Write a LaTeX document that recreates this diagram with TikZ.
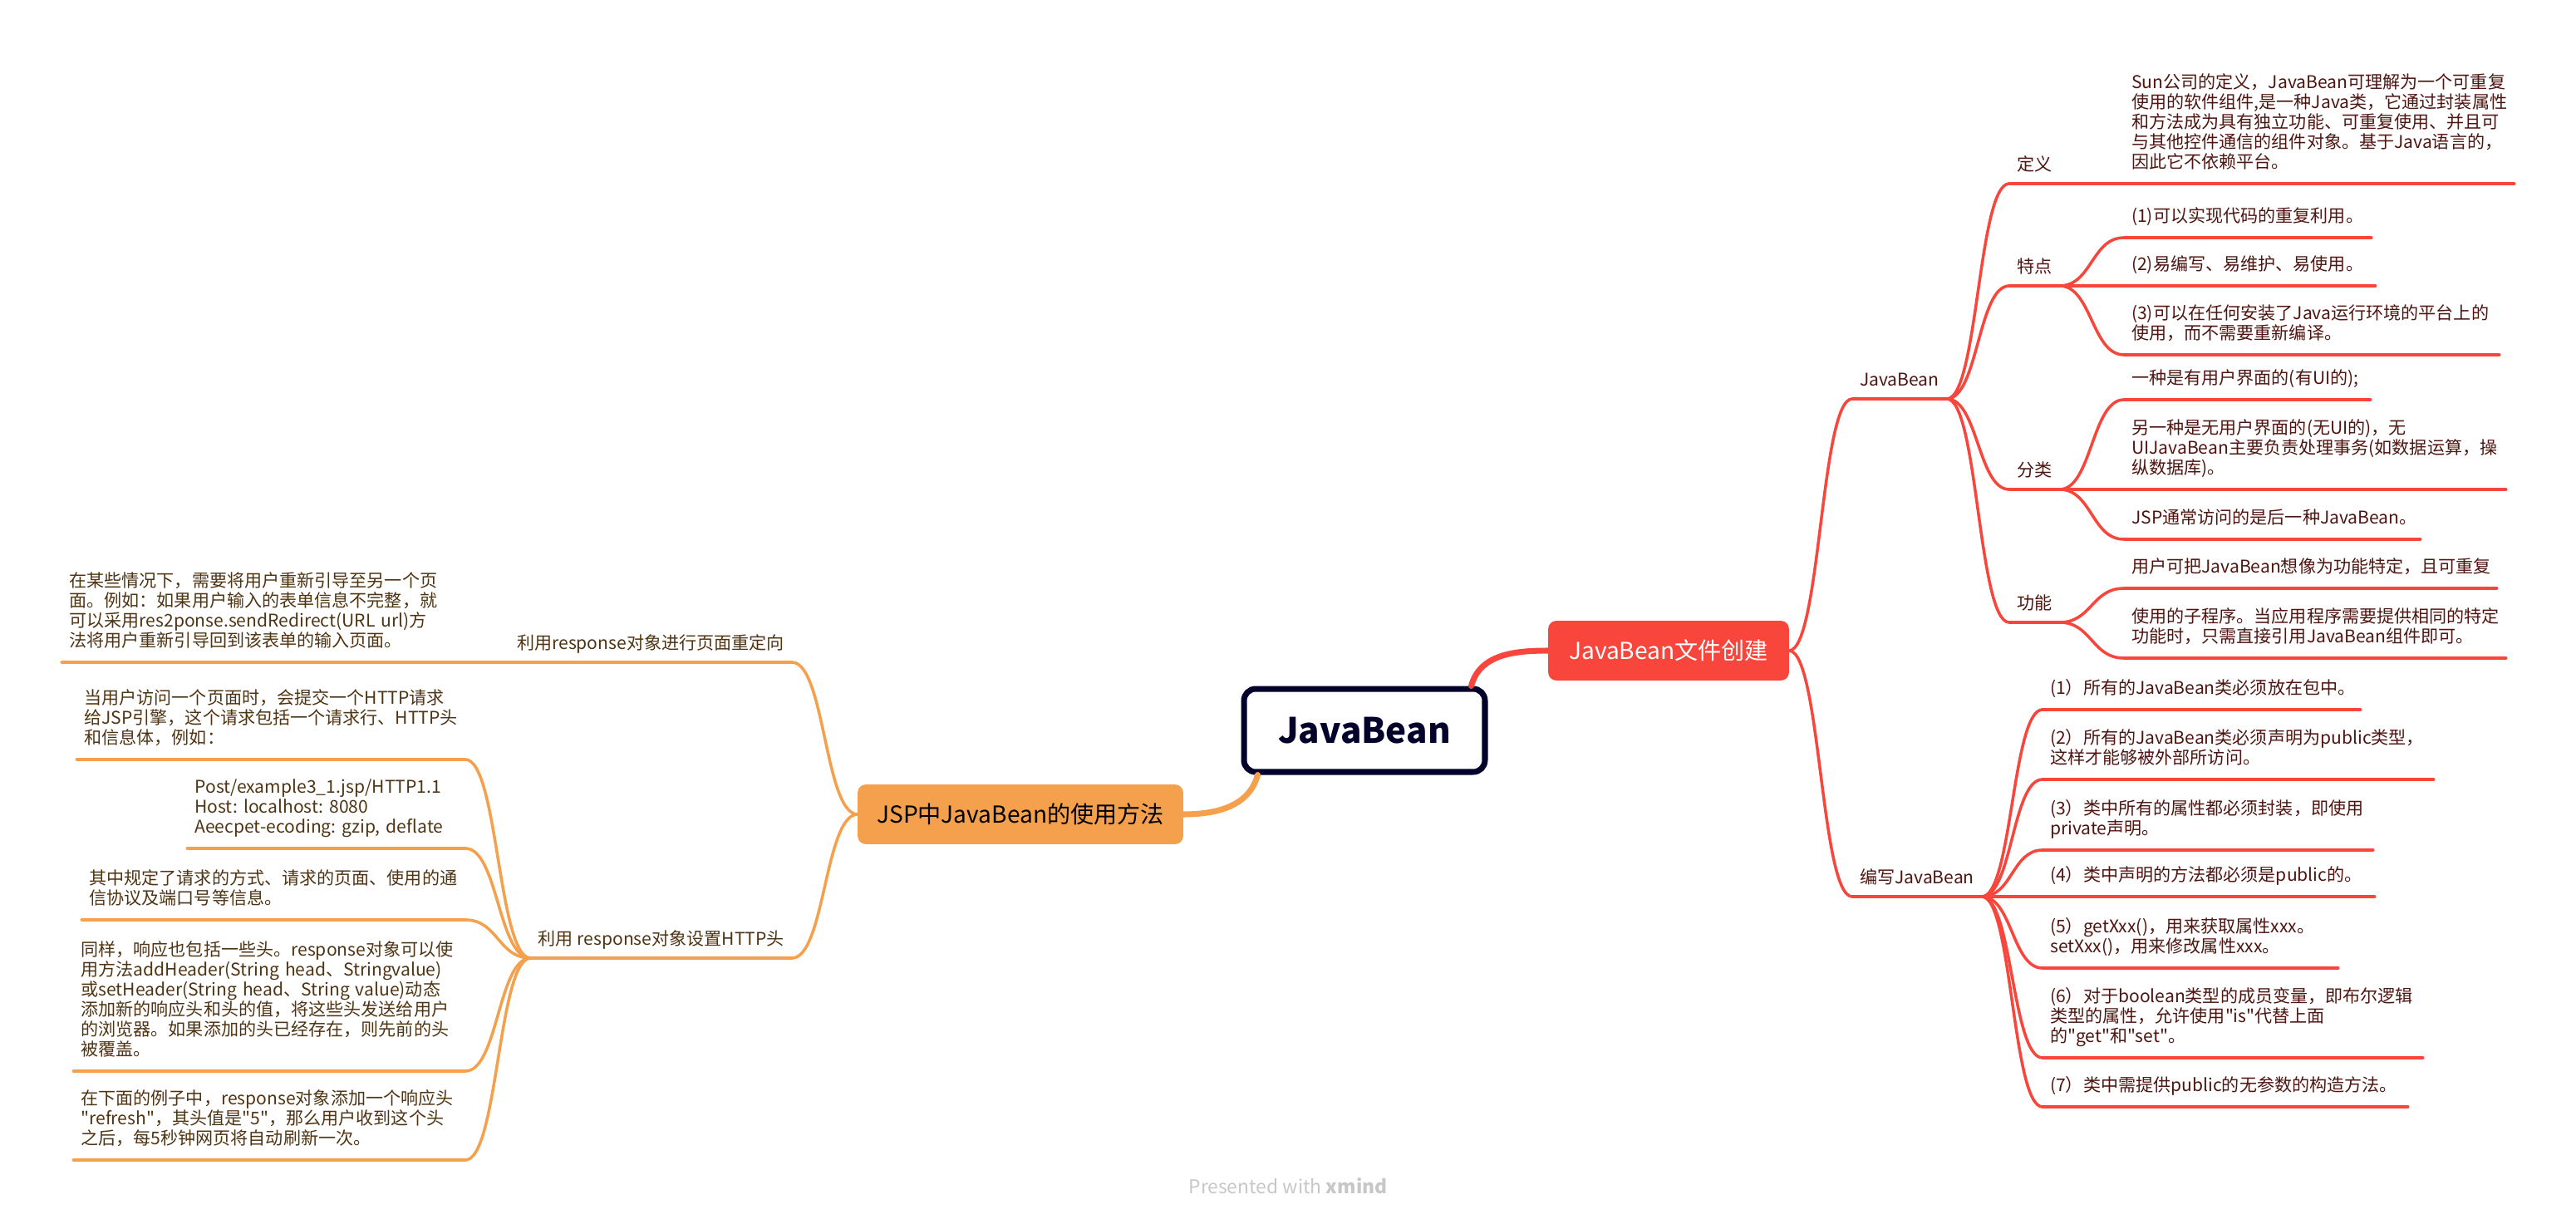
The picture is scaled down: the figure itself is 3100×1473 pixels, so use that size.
\documentclass[tikz,border=0pt]{standalone}
\usepackage{fontspec}
\usepackage{tikz}
\usetikzlibrary{calc, positioning}
\setmainfont{Noto Sans CJK SC}[Ligatures=TeXOff]
\hyphenpenalty=10000
\exhyphenpenalty=10000
\definecolor{RED}{HTML}{F8463C}
\definecolor{ORA}{HTML}{F5A04C}
\definecolor{NAVY}{HTML}{02022B}
\definecolor{RTX}{HTML}{4E1511}
\definecolor{OTX}{HTML}{4F3413}
\tikzset{
  ROOT/.style={% Style for the centre box
      rectangle, rounded corners=8pt, line width=4pt,
      draw=NAVY, fill=white, text=NAVY,
      font=\fontsize{24}{28}\selectfont\bfseries,
      minimum width=5.8cm, minimum height=2cm
  },
  TOPIC/.style={% Style for the coloured main topics
      rectangle, rounded corners=5pt, line width=1pt,
      fill=#1, draw=#1,
      font=\fontsize{16}{19}\selectfont,
      minimum height=1.4cm
  },
  SUB/.style={% Text standing on its own line
      rectangle, align=left,
      inner xsep=5pt, inner ysep=4.6pt,
      font=\fontsize{12}{13.6}\selectfont,
      execute at end node=\strut
  },
  RSUB/.style={SUB, anchor=south west, text=RTX},
  LSUB/.style={SUB, anchor=south east, text=OTX},
  RLEAF/.style={RSUB, inner ysep=6.3pt, text width=#1},
  LLEAF/.style={LSUB, inner ysep=6.3pt, text width=#1},
  RLINE/.style={draw=RED, line width=2pt, line cap=round},
  OLINE/.style={draw=ORA, line width=2pt, line cap=round},
  branch/.style={
    to path={
      let \p1=(\tikztostart), \p2=(\tikztotarget) in
      (\p1) .. controls ({0.5*\x1+0.5*\x2},\y1) and ({0.5*\x1+0.5*\x2},\y2) .. (\p2)
    }
  }
}
\begin{document}
\begin{tikzpicture}[x=0.02cm, y=-0.02cm]
  \useasboundingbox (0,0) rectangle (3100,1473);
  % centre and main topics
  \node[ROOT] (jb) at (1642,879) {JavaBean};
  \node[TOPIC=RED, text=white, minimum width=5.76cm] (create) at (2008,783) {JavaBean文件创建};
  \node[TOPIC=ORA, text=black, minimum width=7.8cm] (usage) at (1228,980) {JSP中JavaBean的使用方法};
  \draw[RLINE, line width=4pt] ([xshift=-0.4cm]jb.north east) to[out=75, in=180] (create.west);
  \draw[OLINE, line width=4pt] ([xshift=0.4cm]jb.south west) to[out=255, in=0] (usage.east);

  % right: JavaBean文件创建
  \node[RSUB] (bean) at (2229,480) {JavaBean};
  \node[RSUB] (write) at (2229,1079) {编写JavaBean};
  \node[RSUB] (define) at (2418,221) {定义};
  \node[RSUB] (feature) at (2418,344) {特点};
  \node[RSUB] (kind) at (2418,589) {分类};
  \node[RSUB] (func) at (2418,749) {功能};
  \node[RLEAF=9.03cm] (def) at (2556,221) {Sun公司的定义，JavaBean可理解为一个可重复\\使用的软件组件,是一种Java类，它通过封装属性\\和方法成为具有独立功能、可重复使用、并且可\\与其他控件通信的组件对象。基于Java语言的，\\因此它不依赖平台。};
  \node[RLEAF=5.59cm] (tone) at (2556,286) {(1)可以实现代码的重复利用。};
  \node[RLEAF=5.69cm] (ttwo) at (2556,344) {(2)易编写、易维护、易使用。};
  \node[RLEAF=8.67cm] (tthree) at (2556,427) {(3)可以在任何安装了Java运行环境的平台上的\\使用，而不需要重新编译。};
  \node[RLEAF=5.57cm] (kone) at (2556,481) {一种是有用户界面的(有UI的);};
  \node[RLEAF=8.83cm] (ktwo) at (2556,589) {另一种是无用户界面的(无UI的)，无\\UIJavaBean主要负责处理事务(如数据运算，操\\纵数据库)。};
  \node[RLEAF=6.77cm] (kthree) at (2556,649) {JSP通常访问的是后一种JavaBean。};
  \node[RLEAF=8.61cm] (fone) at (2556,708) {用户可把JavaBean想像为功能特定，且可重复};
  \node[RLEAF=8.83cm] (ftwo) at (2556,792) {使用的子程序。当应用程序需要提供相同的特定\\功能时，只需直接引用JavaBean组件即可。};
  \node[RLEAF=7.29cm] (wone) at (2458,854) {(1）所有的JavaBean类必须放在包中。};
  \node[RLEAF=9.05cm] (wtwo) at (2458,938) {(2）所有的JavaBean类必须声明为public类型，\\这样才能够被外部所访问。};
  \node[RLEAF=7.59cm] (wthree) at (2458,1023) {(3）类中所有的属性都必须封装，即使用\\private声明。};
  \node[RLEAF=7.63cm] (wfour) at (2458,1079) {(4）类中声明的方法都必须是public的。};
  \node[RLEAF=6.75cm] (wfive) at (2458,1165) {(5）getXxx()，用来获取属性xxx。\\setXxx()，用来修改属性xxx。};
  \node[RLEAF=8.79cm] (wsix) at (2458,1273) {(6）对于boolean类型的成员变量，即布尔逻辑\\类型的属性，允许使用"is"代替上面\\的"get"和"set"。};
  \node[RLEAF=8.43cm] (wseven) at (2458,1332) {(7）类中需提供public的无参数的构造方法。};

  % left: JSP中JavaBean的使用方法
  \node[LSUB] (redir) at (953,797) {利用response对象进行页面重定向};
  \node[LSUB] (http) at (953,1153) {利用 response对象设置HTTP头};
  \node[LLEAF=8.79cm] (rone) at (532,797) {在某些情况下，需要将用户重新引导至另一个页\\面。例如：如果用户输入的表单信息不完整，就\\可以采用res2ponse.sendRedirect(URL~url)方\\法将用户重新引导回到该表单的输入页面。};
  \node[LLEAF=8.99cm] (hone) at (560,914) {当用户访问一个页面时，会提交一个HTTP请求\\给JSP引擎，这个请求包括一个请求行、HTTP头\\和信息体，例如：};
  \node[LLEAF=6.33cm] (htwo) at (560,1021) {Post/example3\_1.jsp/HTTP1.1\\Host:~localhost:~8080\\Aeecpet-ecoding:~gzip,~deflate};
  \node[LLEAF=8.87cm] (hthree) at (560,1107) {其中规定了请求的方式、请求的页面、使用的通\\信协议及端口号等信息。};
  \node[LLEAF=9.07cm] (hfour) at (560,1289) {同样，响应也包括一些头。response对象可以使\\用方法addHeader(String~head、Stringvalue)\\或setHeader(String~head、String~value)动态\\添加新的响应头和头的值，将这些头发送给用户\\的浏览器。如果添加的头已经存在，则先前的头\\被覆盖。};
  \node[LLEAF=9.07cm] (hfive) at (560,1396) {在下面的例子中，response对象添加一个响应头\\"refresh"，其头值是"5"，那么用户收到这个头\\之后，每5秒钟网页将自动刷新一次。};

  % underlines and branches
  \foreach \n in {bean, write, define, feature, kind, func, def, tone, ttwo, tthree,
                  kone, ktwo, kthree, fone, ftwo, wone, wtwo, wthree, wfour, wfive, wsix, wseven}
    \draw[RLINE] (\n.south west) -- (\n.south east);
  \foreach \c in {bean, write}
    \draw[RLINE] (create.east) to[branch] (\c.south west);
  \foreach \p/\c in {bean/define, bean/feature, bean/kind, bean/func, define/def,
                     feature/tone, feature/ttwo, feature/tthree, kind/kone, kind/ktwo, kind/kthree,
                     func/fone, func/ftwo, write/wone, write/wtwo, write/wthree, write/wfour,
                     write/wfive, write/wsix, write/wseven}
    \draw[RLINE] (\p.south east) to[branch] (\c.south west);
  \foreach \n in {redir, http, rone, hone, htwo, hthree, hfour, hfive}
    \draw[OLINE] (\n.south west) -- (\n.south east);
  \foreach \c in {redir, http}
    \draw[OLINE] (usage.west) to[branch] (\c.south east);
  \foreach \p/\c in {redir/rone, http/hone, http/htwo, http/hthree, http/hfour, http/hfive}
    \draw[OLINE] (\p.south west) to[branch] (\c.south east);

  \node[text=black!22, font=\fontsize{13}{15}\selectfont] (brand) at (1550,1427) {Presented with \textbf{xmind}};
\end{tikzpicture}
\end{document}
